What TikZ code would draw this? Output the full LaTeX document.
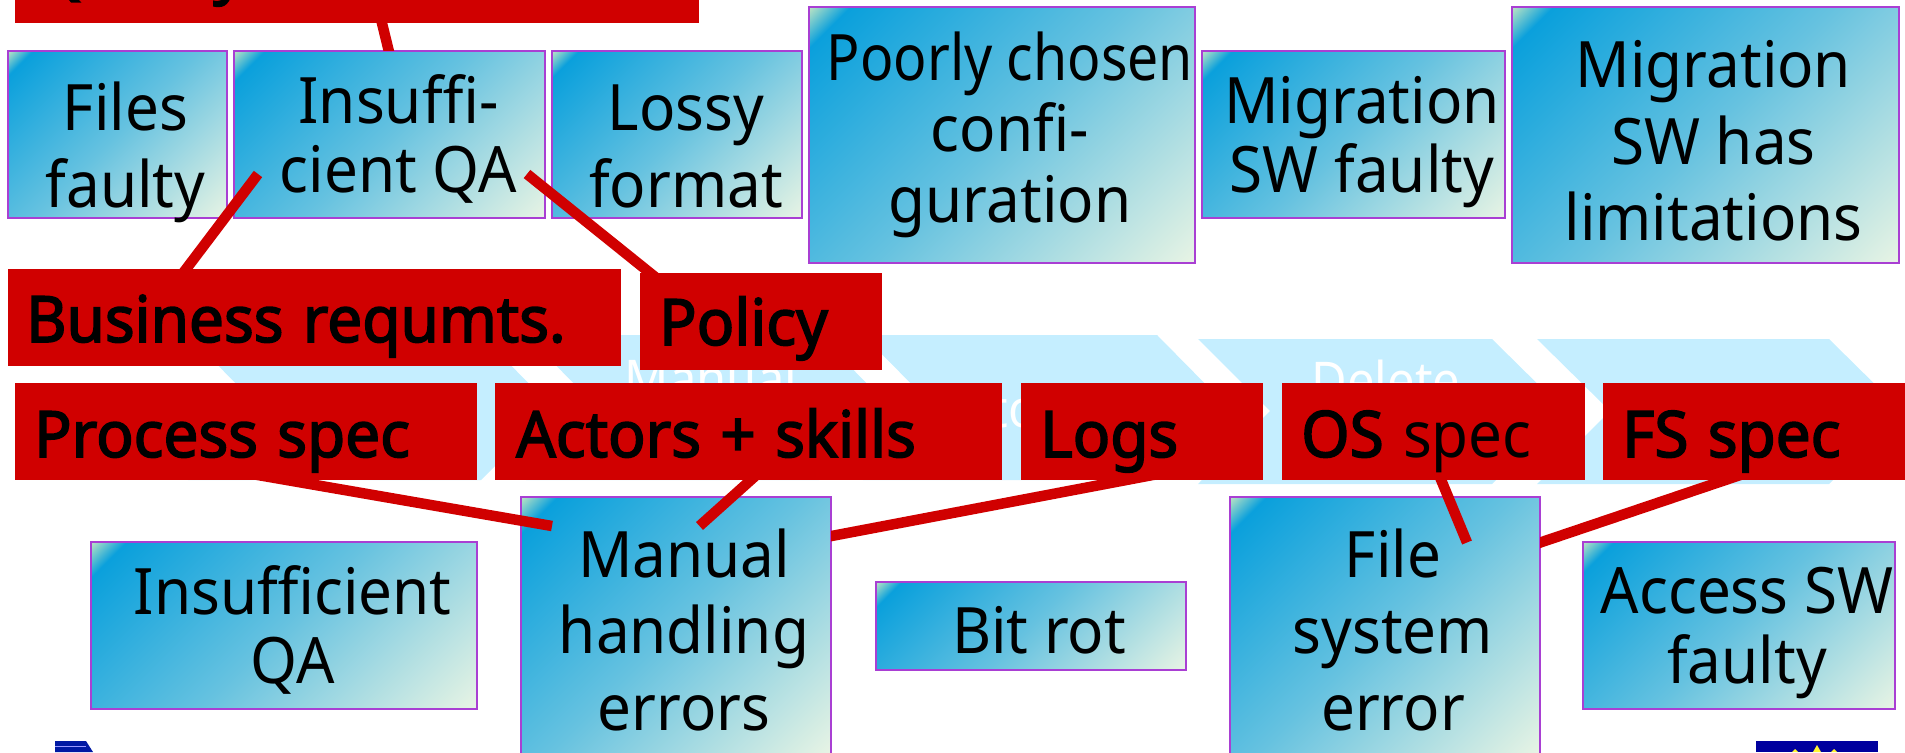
\documentclass[tikz,border=0pt]{standalone}
\usepackage{fontspec}
\setmainfont{Noto Sans}[FakeStretch=0.94,WordSpace=1.0,BoldFont={Noto Sans},BoldFeatures={FakeBold=2.5,FakeStretch=0.97,WordSpace=1.2}]
\definecolor{ppa}{HTML}{B8E2C4}
\definecolor{ppb}{HTML}{0AA0DC}
\definecolor{ppc}{HTML}{66C2E0}
\definecolor{ppd}{HTML}{E8F4E4}
\definecolor{redbox}{HTML}{D00000}
\definecolor{edgep}{HTML}{A93FD3}
\definecolor{chev}{HTML}{C5EEFF}
\pgfdeclarehorizontalshading{ppgrad}{100bp}{
 color(0bp)=(ppa); color(14.6bp)=(ppa); color(19bp)=(ppb); color(50bp)=(ppc); color(85.4bp)=(ppd); color(100bp)=(ppd)}
\newcommand{\tl}[4]{\makebox[0pt][c]{\hspace*{#1pt}\raisebox{\dimexpr#2pt-2.4pt\relax}[0pt][0pt]{\fontsize{64}{#3}\selectfont\begin{tabular}[b]{@{}c@{}}#4\end{tabular}}}}
\tikzset{
 x=1pt,y=-1pt,
 bluebox/.style n args={2}{draw=edgep,line width=2.5pt,shading=ppgrad,shading angle=-45,inner sep=0pt,minimum width=#1pt,minimum height=#2pt},
 redlabel/.style n args={2}{fill=redbox,inner sep=0pt,minimum width=#1pt,minimum height=#2pt,anchor=north west},
 redtext/.style={anchor=base west,inner sep=0pt,font=\fontsize{64}{70}\selectfont\bfseries,text=black},
 conn/.style={draw=redbox,line width=10.5pt},
 chevron/.style={fill=chev,draw=none},
 chevtext/.style={text=white,inner sep=0pt,anchor=base,font=\fontsize{52}{60}\selectfont},
}
\begin{document}
\begin{tikzpicture}
\useasboundingbox (0,0) rectangle (1905,752);
\clip (0,0) rectangle (1905,752);
% chevrons
\fill[chevron] (188,335)--(481,335)--(553,408)--(481,480)--(188,480)--(260,408)--cycle;
\fill[chevron] (526,335)--(819,335)--(891,408)--(819,480)--(526,480)--(598,408)--cycle;
\fill[chevron] (863,335)--(1157,335)--(1229,408)--(1157,480)--(863,480)--(935,408)--cycle;
\fill[chevron] (1198,339)--(1492,339)--(1565,411)--(1492,484)--(1198,484)--(1270,411)--cycle;
\fill[chevron] (1537,339)--(1829,339)--(1902,411)--(1829,484)--(1537,484)--(1610,411)--cycle;
\node[chevtext] (c2) at (711,397) {Manual};
\node[chevtext] (c3) at (1024,427) {Store};
\node[chevtext] (c4) at (1386,399) {Delete};
% blue boxes
\node[bluebox={219}{167}] (files) at (117.5,134.5) {\tl{16}{-70.5}{76.7}{Files\\faulty}};
\node[bluebox={311}{167}] (insuf) at (389.5,134.5) {\tl{18}{-56}{69}{Insuffi-\\cient QA}};
\node[bluebox={250}{167}] (lossy) at (677,134.5) {\tl{18}{-70.5}{76.7}{Lossy\\format}};
\node[bluebox={386}{256}] (poor) at (1002,135) {\tl{16}{-85}{71}{\scalebox{.92}[1]{Poorly chosen}\\confi-\\guration}};
\node[bluebox={303}{167}] (migf) at (1353.5,134.5) {\tl{17}{-56}{69}{Migration\\SW faulty}};
\node[bluebox={387}{256}] (migl) at (1705.5,135) {\tl{16}{-103.5}{76.7}{Migration\\SW has\\limitations}};
\node[bluebox={386}{167}] (iqa) at (284,625.5) {\tl{17}{-55.5}{69}{Insufficient\\QA}};
\node[bluebox={310}{258}] (man) at (676,626) {\tl{16}{-102}{76.7}{Manual\\handling\\errors}};
\node[bluebox={310}{88}] (bit) at (1031,626) {\tl{16}{-25}{76.7}{Bit rot}};
\node[bluebox={310}{258}] (fse) at (1385,626) {\tl{16}{-102}{76.7}{File\\system\\error}};
\node[bluebox={312}{167}] (acc) at (1739,625.5) {\tl{16}{-55.5}{69}{Access SW\\faulty}};
% free connector ends
\coordinate (eTop) at (391,60);
\coordinate (sTop) at (380,15);
\coordinate (sBus) at (171,289);
\coordinate (eBus) at (258,174);
\coordinate (sPol) at (675,293);
\coordinate (ePol) at (527,174);
\coordinate (sPro) at (229,470);
\coordinate (ePro) at (552,526);
\coordinate (sAct) at (762,470);
\coordinate (eAct) at (699.5,526);
\coordinate (sLog) at (1179,470);
\coordinate (eLog) at (821,538);
\coordinate (sOS) at (1437,470);
\coordinate (eOS) at (1467,542.5);
\coordinate (sFS) at (1755,470);
\coordinate (eFS) at (1530,546);
\begin{scope}
\clip (0,0) rectangle (1905,51);
\draw[conn] (sTop) -- (eTop);
\end{scope}
\draw[conn] (sBus) -- (eBus);
\draw[conn] (sPol) -- (ePol);
\draw[conn] (sPro) -- (ePro);
\draw[conn] (sAct) -- (eAct);
\begin{scope}
\clip (831,400) rectangle (1400,600);
\draw[conn] (sLog) -- (eLog);
\end{scope}
\draw[conn] (sOS) -- (eOS);
\begin{scope}
\clip (1540,400) rectangle (1905,600);
\draw[conn] (sFS) -- (eFS);
\end{scope}
% red boxes
\node[redlabel={684}{60}] (rTop) at (15,-37) {};
\node[redtext] (tTop) at (37,-9) {Quality};
\node[redlabel={613}{97}] (rBus) at (8,269) {};
\node[redtext] (tBus) at (26,342) {Business requmts.};
\node[redlabel={242}{97}] (rPol) at (640,273) {};
\node[redtext] (tPol) at (659,345) {Policy};
\node[redlabel={462}{97}] (rPro) at (15,383) {};
\node[redtext] (tPro) at (34,457) {Process spec};
\node[redlabel={507}{97}] (rAct) at (495,383) {};
\node[redtext] (tAct) at (516,457) {Actors + skills};
\node[redlabel={242}{97}] (rLog) at (1021,383) {};
\node[redtext] (tLog) at (1040,457) {Logs};
\node[redlabel={303}{97}] (rOS) at (1282,383) {};
\node[redtext] (tOS) at (1301,457) {OS \mdseries spec};
\node[redlabel={302}{97}] (rFS) at (1603,383) {};
\node[redtext] (tFS) at (1622,457) {FS spec};
% logos
\fill[blue!60!black!90!cyan] (55,752)--(55,741)--(86,741)--(93,752)--cycle;
\fill[blue!40!white] (55,746) rectangle (86,747);
\fill[blue!62!black] (1756,741) rectangle (1878,752);
\fill[yellow!80!white] (1817,745)--(1821,752)--(1813,752)--cycle;
\fill[yellow!80!white] (1795,749)--(1798,752)--(1792,752)--cycle;
\fill[yellow!80!white] (1834,749)--(1837,752)--(1831,752)--cycle;
\end{tikzpicture}
\end{document}
